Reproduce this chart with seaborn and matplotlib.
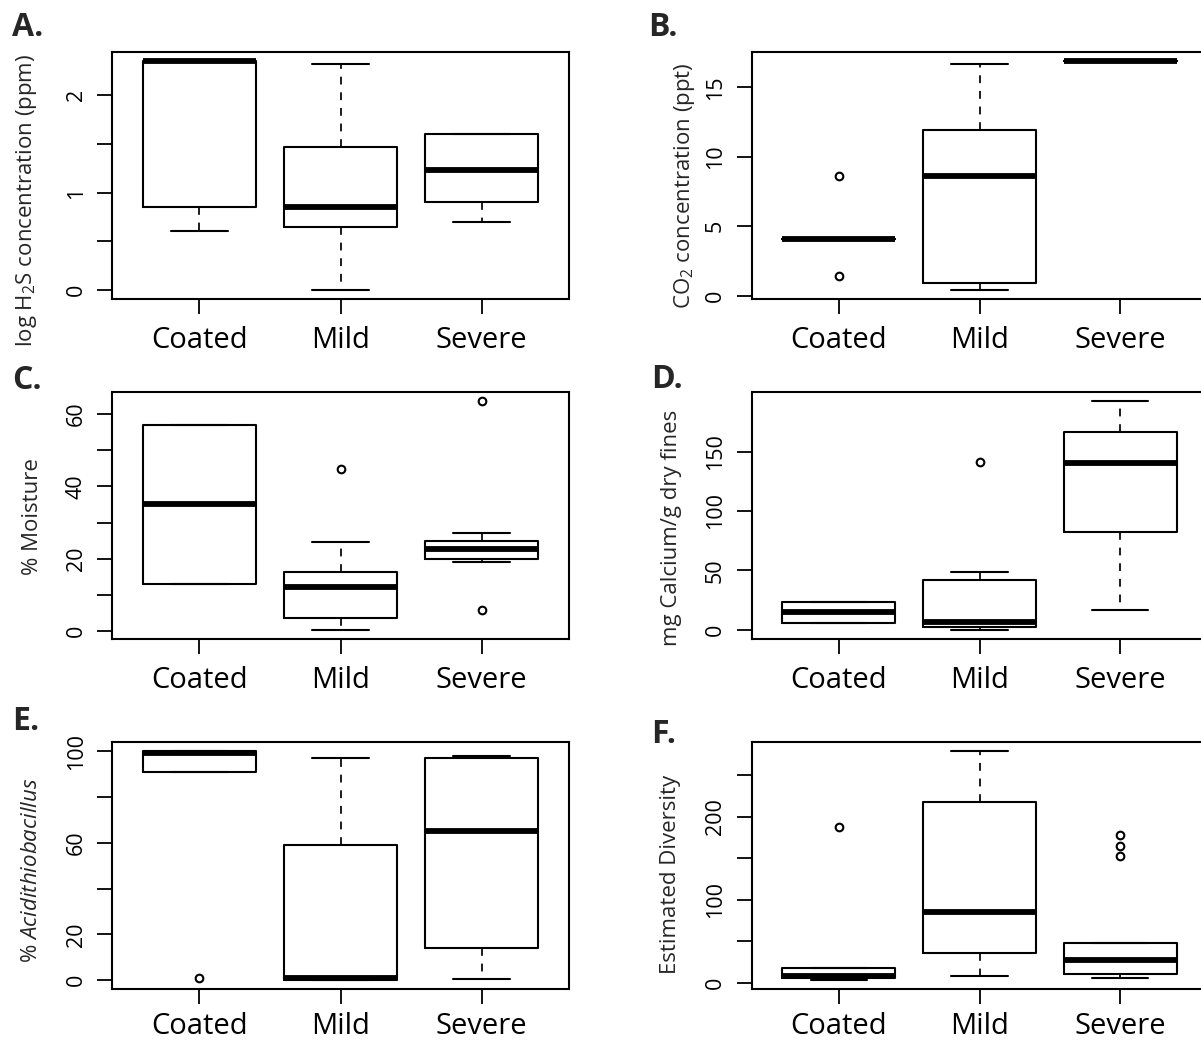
import matplotlib

matplotlib.use("Agg")

import matplotlib.pyplot as plt
import numpy as np
import pandas as pd
import seaborn as sns

# ── Data (per-sample values) ──────────────────────────────────────────────────
CATEGORIES = ["Coated", "Mild", "Severe"]

H2S_COATED = [0.60, 0.85, 2.35, 2.35, 2.35]
H2S_MILD = [0.00, 0.65, 0.85, 1.47, 2.32]
H2S_SEVERE = [0.70, 0.90, 1.23, 1.60, 1.60]

CO2_COATED = [1.4, 4.1, 4.1, 4.1, 8.6]
CO2_MILD = [0.41, 0.87, 8.6, 11.9, 16.7]
CO2_SEVERE = [16.9, 16.9, 16.9, 16.9, 16.9]

MOIST_COATED = [13.1, 13.1, 35.0, 56.9, 56.9]
MOIST_MILD = [0.45, 2.0, 3.7, 8.0, 12.3, 14.0, 16.4, 24.5, 44.8]
MOIST_SEVERE = [5.9, 19.0, 19.9, 21.0, 22.8, 24.0, 24.9, 27.1, 63.6]

CALC_COATED = [5.9, 5.9, 14.6, 23.3, 23.3]
CALC_MILD = [0.0, 1.0, 2.0, 4.0, 6.5, 20.0, 41.9, 48.3, 141.5]
CALC_SEVERE = [16.3, 82.0, 140.7, 166.8, 192.7]

ACID_COATED = [0.9, 90.9, 90.9, 95.0, 99.3, 99.6, 100.0, 100.0, 100.0]
ACID_MILD = [0.0, 0.2, 0.9, 59.0, 97.0]
ACID_SEVERE = [0.3, 13.9, 65.1, 96.8, 98.1]

DIV_COATED = [3.0, 4.0, 5.0, 6.0, 8.0, 12.0, 17.7, 17.7, 187.2]
DIV_MILD = [8.4, 35.8, 85.2, 217.3, 279.0]
DIV_SEVERE = [6.0, 8.0, 9.0, 10.5, 15.0, 20.0, 27.0, 35.0, 42.0, 47.8,
              153.0, 164.7, 178.0]

# y ticks (all ticks, labelled ticks)
H2S_TICKS = [0, 0.5, 1, 1.5, 2]
H2S_LABELS = ["0", "", "1", "", "2"]
CO2_TICKS = [0, 5, 10, 15]
CO2_LABELS = ["0", "5", "10", "15"]
MOIST_TICKS = [0, 10, 20, 30, 40, 50, 60]
MOIST_LABELS = ["0", "", "20", "", "40", "", "60"]
CALC_TICKS = [0, 50, 100, 150]
CALC_LABELS = ["0", "50", "100", "150"]
ACID_TICKS = [0, 20, 40, 60, 80, 100]
ACID_LABELS = ["0", "20", "", "60", "", "100"]
DIV_TICKS = [0, 50, 100, 150, 200, 250]
DIV_LABELS = ["0", "", "100", "", "200", ""]

# ── Style ─────────────────────────────────────────────────────────────────────
sns.set_style("ticks")
plt.rcParams["font.family"] = ["Open Sans", "DejaVu Sans"]
plt.rcParams["mathtext.fontset"] = "custom"
plt.rcParams["mathtext.rm"] = "Open Sans"
plt.rcParams["mathtext.it"] = "Open Sans:italic"

W, H = 1201, 1041
fig = plt.figure(figsize=(W / 100, H / 100), dpi=100)
fig.patch.set_facecolor("white")

# panel geometry in pixels: rows (top, height, x-label pad), cols (left, width)
ROWS = [(52, 247, 9), (391.7, 247, 9), (742, 247.3, 5.2)]
COLS = [(112, 457), (751.5, 456)]

panels = [
    # letter, letter pos, data, ticks, labels, ylabel, ylabel baseline x, ylabel center y
    ("A.", (12, 36), [H2S_COATED, H2S_MILD, H2S_SEVERE], H2S_TICKS, H2S_LABELS,
     r"log H$_2$S concentration (ppm)", 32, 200),
    ("B.", (648, 36), [CO2_COATED, CO2_MILD, CO2_SEVERE], CO2_TICKS, CO2_LABELS,
     r"CO$_2$ concentration (ppt)", 690, 185.5),
    ("C.", (12, 389), [MOIST_COATED, MOIST_MILD, MOIST_SEVERE], MOIST_TICKS, MOIST_LABELS,
     "% Moisture", 37.5, 516.5),
    ("D.", (651, 388), [CALC_COATED, CALC_MILD, CALC_SEVERE], CALC_TICKS, CALC_LABELS,
     "mg Calcium/g dry fines", 677, 527.5),
    ("E.", (12, 730), [ACID_COATED, ACID_MILD, ACID_SEVERE], ACID_TICKS, ACID_LABELS,
     r"% $\mathit{Acidithiobacillus}$", 37.5, 870),
    ("F.", (651, 743), [DIV_COATED, DIV_MILD, DIV_SEVERE], DIV_TICKS, DIV_LABELS,
     "Estimated Diversity", 676, 874.5),
]

for i, (letter, lpos, groups, ticks, labels, ylabel, lab_x, lab_y) in enumerate(panels):
    top, height, xpad = ROWS[i // 2]
    left, width = COLS[i % 2]
    ax = fig.add_axes([left / W, 1 - (top + height) / H, width / W, height / H])

    df = pd.DataFrame({
        "group": np.repeat(CATEGORIES, [len(g) for g in groups]),
        "value": np.concatenate(groups),
    })
    sns.boxplot(
        data=df, x="group", y="value", order=CATEGORIES, ax=ax,
        width=0.8, fill=False, color="black", linewidth=1.5, whis=1.5,
        boxprops=dict(color="black", linewidth=1.5),
        medianprops=dict(color="black", linewidth=4.2, solid_capstyle="butt"),
        whiskerprops=dict(color="black", linewidth=1.25, linestyle=(0, (4.5, 4.5))),
        capprops=dict(color="black", linewidth=1.5),
        flierprops=dict(marker="o", markersize=5.5, markerfacecolor="none",
                        markeredgecolor="black", markeredgewidth=1.5),
    )

    # R-style limits: 4% padding around the data range
    allv = np.concatenate(groups)
    lo, hi = allv.min(), allv.max()
    pad = 0.04 * (hi - lo)
    ax.set_ylim(lo - pad, hi + pad)
    ax.set_xlim(-0.62, 2.62)

    ax.set_xlabel("")
    ax.set_ylabel("")
    ax.set_yticks(ticks, labels)
    ax.set_xticks(range(3), CATEGORIES)

    for sp in ax.spines.values():
        sp.set_visible(True)
        sp.set_linewidth(1.5)
        sp.set_color("black")

    ax.tick_params(axis="both", direction="out", length=10.8, width=1.3,
                   color="black", labelcolor="black")
    ax.tick_params(axis="x", labelsize=21, pad=xpad)
    ax.tick_params(axis="y", labelsize=15.5, pad=7.5)
    plt.setp(ax.get_yticklabels(), rotation=90, va="center")

    fig.text(lpos[0] / W, 1 - lpos[1] / H, letter, fontsize=23,
             fontweight="bold", ha="left", va="baseline")
    fig.text(lab_x / W, 1 - lab_y / H, ylabel, fontsize=16, rotation=90,
             rotation_mode="anchor", ha="center", va="baseline")

fig.savefig("out.png", dpi=100, facecolor="white")
